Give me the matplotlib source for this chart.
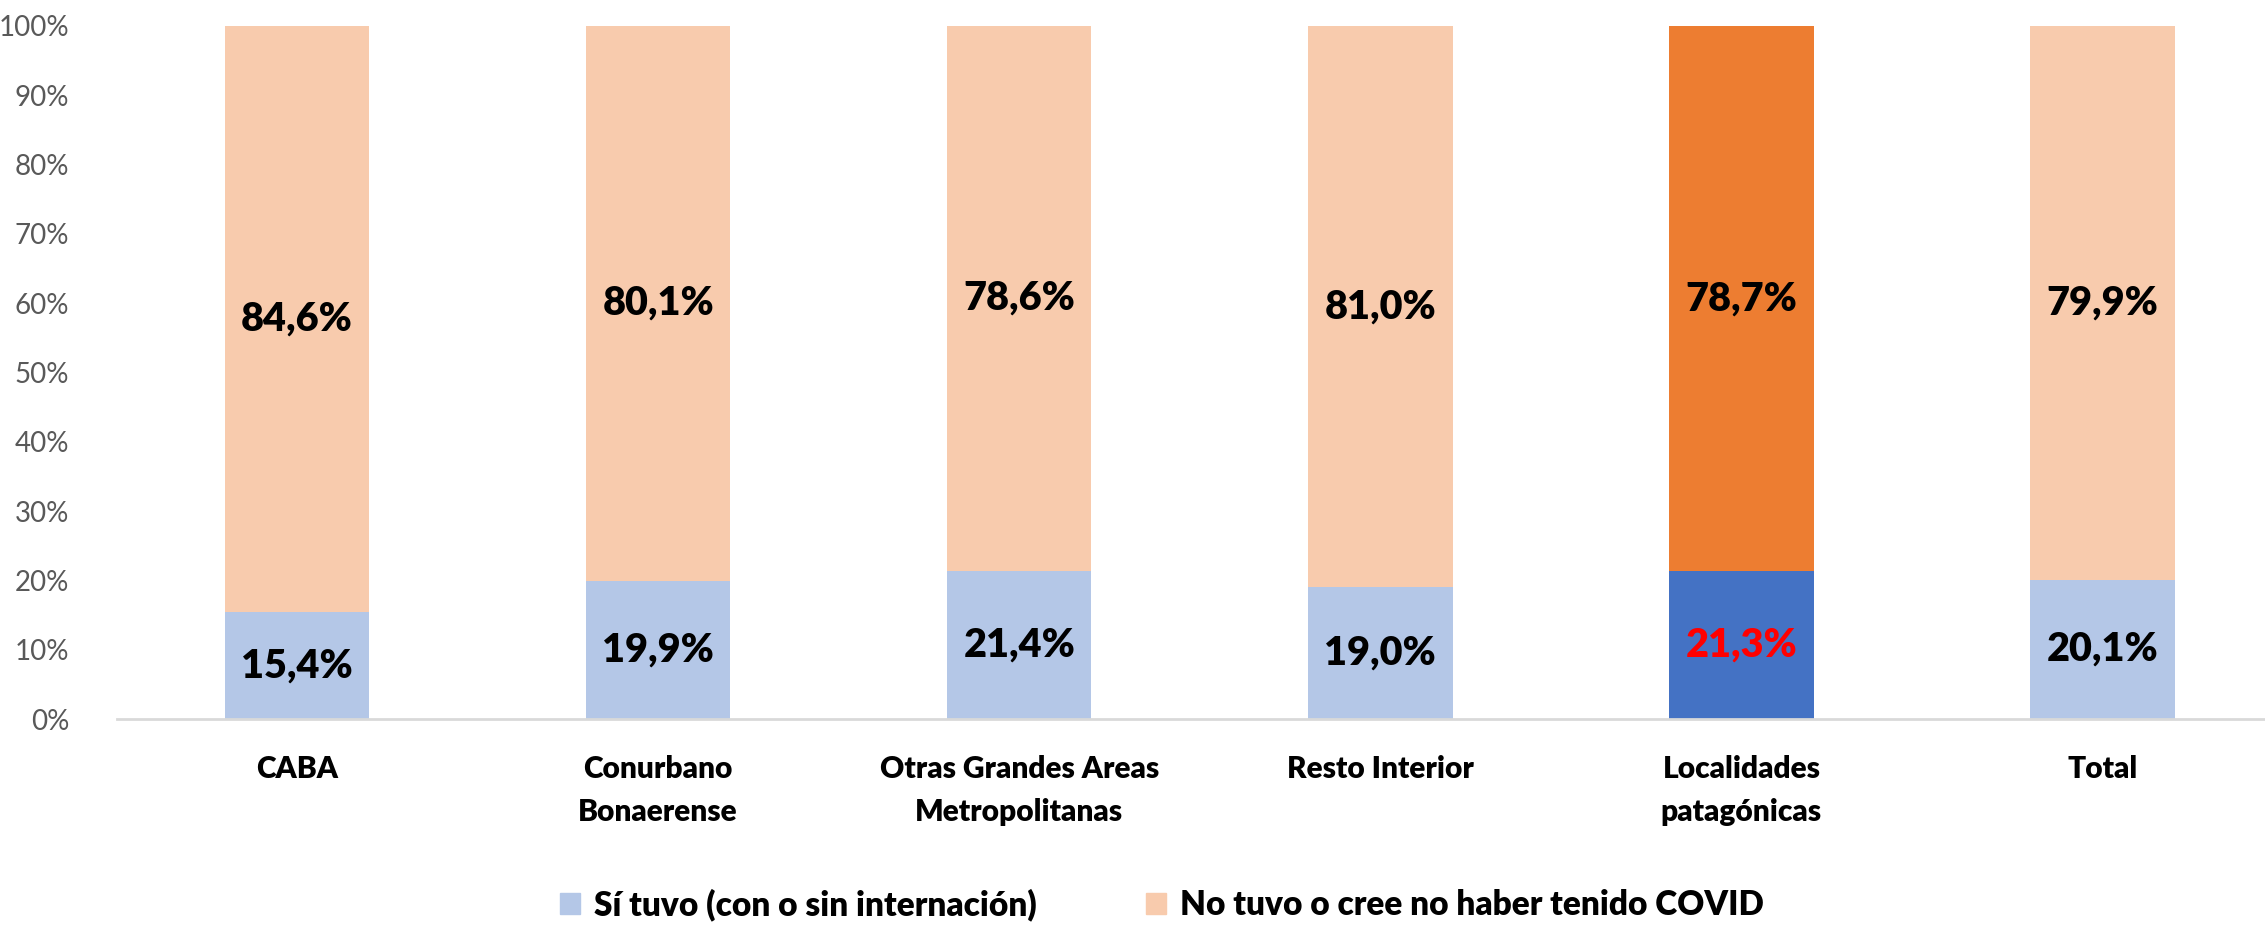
import numpy as np
import matplotlib.pyplot as plt

categories = ["CABA", "Conurbano\nBonaerense", "Otras Grandes Areas\nMetropolitanas",
              "Resto Interior", "Localidades\npatagónicas", "Total"]
si_tuvo = [15.4, 19.9, 21.4, 19.0, 21.3, 20.1]
no_tuvo = [84.6, 80.1, 78.6, 81.0, 78.7, 79.9]
legend_labels = ["Sí tuvo (con o sin internación)", "No tuvo o cree no haber tenido COVID"]

plt.rcParams['font.family'] = ['Lato', 'DejaVu Sans']

light_blue, light_orange = "#B4C7E7", "#F8CBAD"
dark_blue, dark_orange = "#4472C4", "#ED7D31"
highlight = 4  # Localidades patagónicas

fig = plt.figure(figsize=(22.65, 9.26), dpi=100)
ax = fig.add_axes([116.5 / 2265, 1 - 719 / 926, 1 - 116.5 / 2265, 693 / 926])

x = np.arange(len(categories))
c1 = [dark_blue if i == highlight else light_blue for i in x]
c2 = [dark_orange if i == highlight else light_orange for i in x]
ax.bar(x, si_tuvo, width=0.4, color=c1, label=legend_labels[0])
ax.bar(x, no_tuvo, width=0.4, bottom=si_tuvo, color=c2, label=legend_labels[1])

for i in x:
    ax.text(i, si_tuvo[i] / 2, f"{si_tuvo[i]:.1f}%".replace(".", ","), ha="center", va="center",
            fontsize=28.5, fontweight="heavy", color="red" if i == highlight else "black")
    ax.text(i, si_tuvo[i] + no_tuvo[i] / 2, f"{no_tuvo[i]:.1f}%".replace(".", ","), ha="center",
            va="center", fontsize=28.5, fontweight="heavy", color="black")

ax.set_xlim(-0.5, 5.45)
ax.set_ylim(0, 100)
ax.set_yticks(np.arange(0, 101, 10))
ax.set_yticklabels([f"{v}%" for v in range(0, 101, 10)], fontsize=20, color="#595959")
ax.set_xticks(x)
ax.set_xticklabels(categories, fontsize=21.5, fontweight="heavy", linespacing=1.65)
ax.tick_params(axis="both", length=0)
ax.tick_params(axis="x", pad=26)
ax.tick_params(axis="y", pad=34)
for s in ["top", "right", "left"]:
    ax.spines[s].set_visible(False)
ax.spines["bottom"].set_color("#D9D9D9")
ax.spines["bottom"].set_linewidth(2)

handles = [plt.Rectangle((0, 0), 1, 1, color=light_blue), plt.Rectangle((0, 0), 1, 1, color=light_orange)]
fig.legend(handles, legend_labels, loc="center", bbox_to_anchor=(0.513, 1 - 905 / 926), ncol=2,
           frameon=False, prop={"size": 24, "weight": "heavy"}, handlelength=0.6, handleheight=0.6,
           handletextpad=0.4, columnspacing=3.3)

fig.savefig("out.png", dpi=100)
